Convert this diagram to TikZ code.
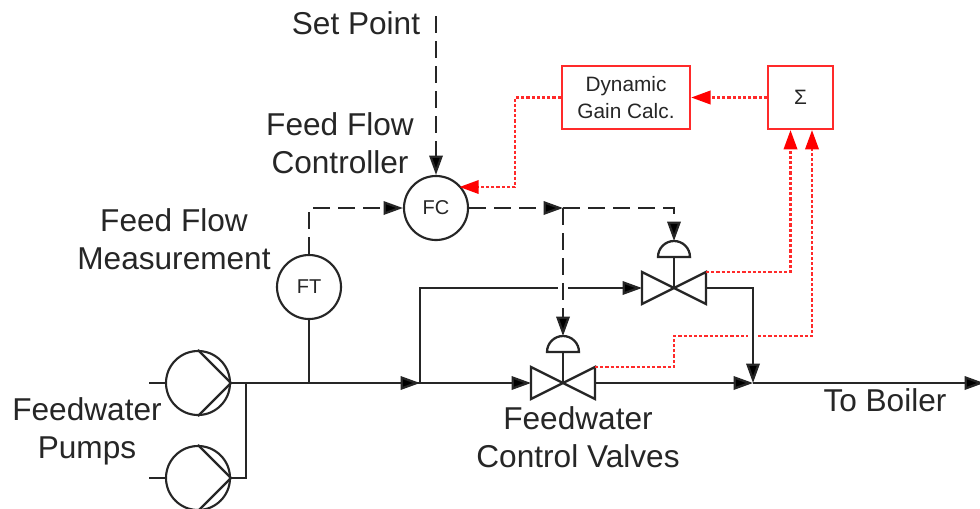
\documentclass[tikz,border=0pt]{standalone}
\usepackage{fontspec}
\setmainfont{Liberation Sans}
\usetikzlibrary{arrows.meta,calc}
\definecolor{ink}{HTML}{262626}
\definecolor{redline}{HTML}{FF2A2A}
\tikzset{
  x=0.75pt,y=-0.75pt,
  solidline/.style={draw=ink,line width=1.7pt,line join=miter},
  ctrl/.style={draw=ink,line width=1.7pt,dash pattern=on 12.5pt off 6.25pt},
  sig/.style={draw=redline,line width=1.9pt,dash pattern=on 2.4pt off 1.5pt},
  tipk/.style={-{Triangle[length=14.5pt,width=10pt,fill=black]}},
  tipr/.style={-{Triangle[length=14.5pt,width=10pt,fill=red,color=red]}},
  inst/.style={circle,draw=ink,line width=1.6pt,minimum size=48pt,inner sep=0pt,fill=white,font=\fontsize{15}{17}\selectfont,text=ink},
  pumpnode/.style={circle,draw=ink,line width=1.6pt,minimum size=48pt,inner sep=0pt},
  redbox/.style={draw=redline,line width=1.8pt,fill=white,inner sep=0pt,align=center,font=\fontsize{15.6}{20}\selectfont,text=ink},
  lbl/.style={align=center,font=\fontsize{23.7}{28.5}\selectfont,text=ink,inner sep=0pt},
  valve/.pic={
    \draw[solidline,line join=miter] (-32,-16) -- (32,16) -- (32,-16) -- (-32,16) -- cycle;
    \draw[solidline] (0,0) -- (0,-31);
    \draw[solidline] (-16,-31) arc[start angle=180,end angle=360,radius=16] -- cycle;
    \coordinate (-in) at (-32,0);
    \coordinate (-out) at (32,0);
    \coordinate (-act) at (0,-47);
    \coordinate (-tap) at (32,-16);
  }
}
\begin{document}
\begin{tikzpicture}
\useasboundingbox (0,0) rectangle (980,508);
\clip (0,0) rectangle (980,508);
\fill[white] (0,0) rectangle (980,508);

% instruments
\node[inst] (fc) at (436,208) {FC};
\node[inst] (ft) at (309,287) {FT};
\node[redbox,minimum width=96pt,minimum height=47pt] (dyn) at (626,97.5) {Dynamic\\Gain Calc.};
\node[redbox,minimum width=48.5pt,minimum height=47pt] (sum) at (800.5,97.5) {Σ};

% pumps
\node[pumpnode] (p1) at (198,383) {};
\node[pumpnode] (p2) at (198,478) {};
\draw[solidline] (p1.north) -- (p1.east) -- (p1.south);
\draw[solidline] (p2.north) -- (p2.east) -- (p2.south);
\coordinate (s1) at (149,383);
\coordinate (s2) at (149,478);
\draw[solidline] (s1) -- (p1.west);
\draw[solidline] (s2) -- (p2.west);

% valves
\pic (v1) at (674,288) {valve};
\pic (v2) at (563,383) {valve};

% process lines
\coordinate (jp) at (246,383);
\coordinate (jft) at (309,383);
\coordinate (jb) at (420,383);
\coordinate (jm) at (753,383);
\coordinate (endr) at (984,383);
\coordinate (bt) at (420,288);
\coordinate (xa) at (558,288);
\coordinate (xb) at (568,288);
\coordinate (ct) at (753,288);
\draw[solidline] (p1.east) -- (jp) -- (jft) -- (jb);
\draw[solidline,tipk] (jft) -- (jb);
\draw[solidline] (p2.east) -- (246,478) -- (jp);
\draw[solidline] (ft.south) -- (jft);
\draw[solidline,tipk] (jb) -- (v2-in);
\draw[solidline] (jb) -- (bt) -- (xa);
\draw[solidline,tipk] (xb) -- (v1-in);
\draw[solidline,tipk] (v2-out) -- (jm);
\draw[solidline,tipk] (v1-out) -- (ct) -- (jm);
\draw[solidline,tipk] (jm) -- (endr);

% control signals
\coordinate (sp) at (436,16);
\coordinate (ftc) at (309,208);
\coordinate (jc) at (563,208);
\coordinate (vc) at (674,208);
\draw[ctrl,tipk] (sp) -- (fc.north);
\draw[ctrl,tipk] (ft.north) -- (ftc) -- (fc.west);
\draw[ctrl,tipk] (fc.east) -- (jc);
\draw[ctrl,tipk] (jc) -- (vc) -- (v1-act);
\draw[ctrl,tipk] (jc) -- (v2-act);

% red signals
\coordinate (r1) at (790.5,272);
\coordinate (r2) at (674,367);
\coordinate (r3) at (674,336);
\coordinate (r4a) at (748,336);
\coordinate (r4b) at (758,336);
\coordinate (r5) at (812,336);
\coordinate (r6) at (515,97.5);
\coordinate (r7) at (515,187);
\draw[sig,tipr] (v1-tap) -- (r1) -- (r1 |- sum.south);
\draw[sig] (v2-tap) -- (r2) -- (r3) -- (r4a);
\draw[sig,tipr] (r4b) -- (r5) -- (r5 |- sum.south);
\draw[sig,tipr] (sum.west) -- (dyn.east);
\draw[sig,tipr] (dyn.west) -- (r6) -- (r7) -- (fc.45 |- r7);

% labels
\node[lbl] (tsp) at (356,23) {Set Point};
\node[lbl] (tfc) at (340,143) {Feed Flow\\Controller};
\node[lbl] (tft) at (174,239) {Feed Flow\\Measurement};
\node[lbl] (tpm) at (87,431.5) {Feedwater\\Pumps};
\node[lbl] (tvl) at (578,437.5) {Feedwater\\Control Valves};
\node[lbl] (tob) at (885,400) {To Boiler};
\end{tikzpicture}
\end{document}
